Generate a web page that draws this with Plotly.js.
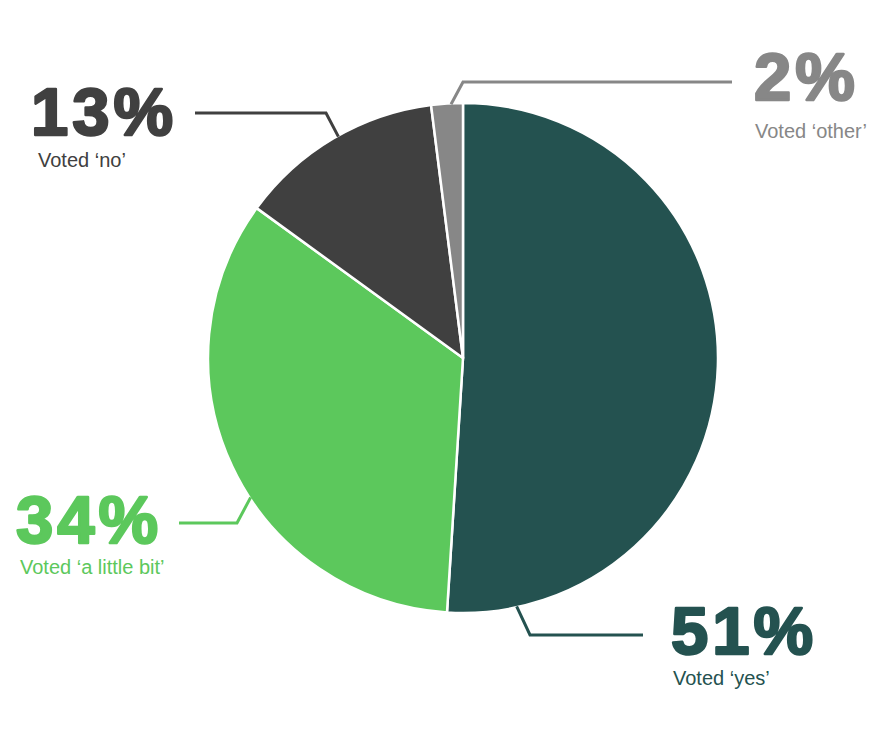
<!DOCTYPE html>
<html>
<head>
<meta charset="utf-8">
<script src="https://cdn.plot.ly/plotly-3.0.1.min.js"></script>
<style>
  html, body { margin: 0; padding: 0; background: #ffffff; }
  #chart { width: 886px; height: 738px; }
</style>
</head>
<body>
<div id="chart"></div>
<script>
// ---- data ----
var categories = ["Voted \u2018yes\u2019", "Voted \u2018a little bit\u2019", "Voted \u2018no\u2019", "Voted \u2018other\u2019"];
var values = [51, 34, 13, 2];
var percentLabels = ["51%", "34%", "13%", "2%"];
var colors = ["#245250", "#5cc85c", "#404040", "#878787"];

// ---- layout constants (pixels) ----
var W = 886, H = 738;
var CX = 463, CY = 358, R = 255;

// label placement per category: big text, small text, leader elbow/end
var labelCfg = [
  { bigX: 675, bigY: 630, subX: 671, subY: 678, elbow: [530, 635], end: [643, 635] },
  { bigX: 20,  bigY: 519, subX: 18,  subY: 567, elbow: [237, 523], end: [179, 523] },
  { bigX: 35,  bigY: 112, subX: 36,  subY: 160, elbow: [326, 113], end: [195, 113] },
  { bigX: 756, bigY: 76,  subX: 753, subY: 131, elbow: [463, 82],  end: [732, 82] }
];
// leader anchor position inside each slice (fraction of the slice's sweep, from its start)
var anchorFrac = [0.914, 0.434, 0.526, 0.625];

function px(x) { return x / W; }
function py(y) { return 1 - y / H; }

var total = values.reduce(function (a, b) { return a + b; }, 0);
var annotations = [];
var shapes = [];
var cum = 0;
for (var i = 0; i < values.length; i++) {
  var startDeg = cum / total * 360;
  var sweep = values[i] / total * 360;
  cum += values[i];
  var ang = (startDeg + sweep * anchorFrac[i]) * Math.PI / 180;
  var ax = CX + (R - 1) * Math.sin(ang);
  var ay = CY - (R - 1) * Math.cos(ang);
  var c = labelCfg[i];
  shapes.push({
    type: "path", xref: "paper", yref: "paper",
    path: "M " + px(c.end[0]) + " " + py(c.end[1]) +
          " L " + px(c.elbow[0]) + " " + py(c.elbow[1]) +
          " L " + px(ax) + " " + py(ay),
    line: { color: colors[i], width: 3 }
  });
  annotations.push({
    xref: "paper", yref: "paper", x: px(c.bigX), y: py(c.bigY),
    xanchor: "left", yanchor: "middle", showarrow: false,
    text: percentLabels[i],
    font: { family: "Liberation Sans, Arial, sans-serif", size: 67, color: colors[i], weight: 700 }
  });
  annotations.push({
    xref: "paper", yref: "paper", x: px(c.subX), y: py(c.subY),
    xanchor: "left", yanchor: "middle", showarrow: false,
    text: categories[i],
    font: { family: "Liberation Sans, Arial, sans-serif", size: 20, color: colors[i] }
  });
}

var trace = {
  type: "pie",
  labels: categories,
  values: values,
  sort: false,
  direction: "clockwise",
  rotation: 0,
  textinfo: "none",
  hoverinfo: "none",
  showlegend: false,
  marker: { colors: colors, line: { color: "#ffffff", width: 2.5 } },
  domain: { x: [px(CX - R), px(CX + R)], y: [py(CY + R), py(CY - R)] }
};

var layout = {
  width: W, height: H,
  margin: { l: 0, r: 0, t: 0, b: 0 },
  paper_bgcolor: "#ffffff",
  plot_bgcolor: "#ffffff",
  showlegend: false,
  annotations: annotations,
  shapes: shapes
};

Plotly.newPlot("chart", [trace], layout, { staticPlot: true, displayModeBar: false }).then(function () {
  // heavier look for the big percentage figures
  document.querySelectorAll("#chart .annotation-text").forEach(function (t) {
    if (parseFloat(t.style.fontSize) > 40) {
      t.style.stroke = t.style.fill;
      t.style.strokeWidth = "2.5px";
      t.style.strokeLinejoin = "round";
      t.style.letterSpacing = "4px";
    }
  });
});
</script>
</body>
</html>
